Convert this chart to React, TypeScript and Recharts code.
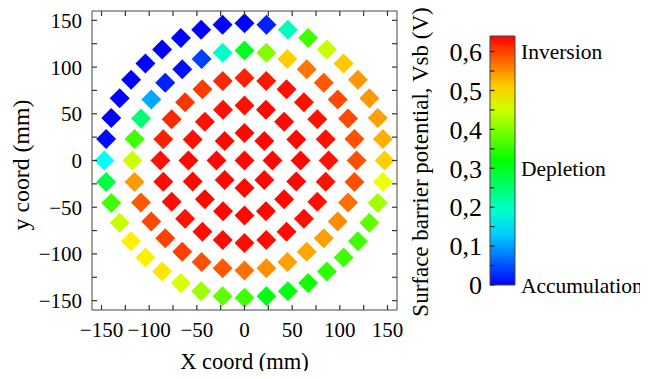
import React from 'react';
import { ScatterChart, Scatter, XAxis, YAxis, ComposedChart, ReferenceArea } from 'recharts';

// ---- data ----
const VMAX = 0.64;
const RING_RADII = [0, 29.4, 58.8, 88.2, 117.6, 147]; // mm, sites equally spaced on each ring starting at +x, counter-clockwise
const RING0 = [0.635];
const RING1 = [0.635, 0.635, 0.635, 0.635, 0.635, 0.635, 0.635, 0.635];
const RING2 = [0.635, 0.635, 0.635, 0.635, 0.63, 0.63, 0.63, 0.63, 0.635, 0.635, 0.635, 0.635, 0.635, 0.635, 0.635, 0.635];
const RING3 = [0.63, 0.63, 0.63, 0.63, 0.63, 0.625, 0.62, 0.615, 0.603, 0.607, 0.615, 0.62, 0.63, 0.632, 0.632, 0.628, 0.632, 0.632, 0.632, 0.632, 0.632, 0.632, 0.63, 0.63];
const RING4 = [0.59, 0.59, 0.595, 0.595, 0.585, 0.565, 0.51, 0.4, 0.3, 0.19, 0.04, 0.01, 0.02, 0.107, 0.25, 0.36, 0.448, 0.544, 0.585, 0.595, 0.6, 0.6, 0.59, 0.585, 0.57, 0.55, 0.54, 0.536, 0.54, 0.552, 0.57, 0.59];
const RING5 = [0.51, 0.53, 0.54, 0.545, 0.545, 0.515, 0.445, 0.36, 0.2, 0.02, 0, 0, 0, 0, 0, 0, 0, 0, 0, 0.005, 0.16, 0.28, 0.36, 0.445, 0.49, 0.49, 0.495, 0.456, 0.42, 0.38, 0.36, 0.31, 0.31, 0.33, 0.35, 0.36, 0.36, 0.38, 0.42, 0.47];
const RING_VALUES = [RING0, RING1, RING2, RING3, RING4, RING5];

const AXIS_MIN = -160;
const AXIS_MAX = 160;
const AXIS_TICKS = [-150, -125, -100, -75, -50, -25, 0, 25, 50, 75, 100, 125, 150];
const CB_TICKS = [0, 0.05, 0.1, 0.15, 0.2, 0.25, 0.3, 0.35, 0.4, 0.45, 0.5, 0.55, 0.6];
const CB_LABEL_TICKS = [0, 0.3, 0.6];
const CB_LABELS = ['Accumulation', 'Depletion', 'Inversion'];

const X_TITLE = 'X coord (mm)';
const Y_TITLE = 'y coord (mm)';
const CB_TITLE = 'Surface barrier potential, Vsb (V)';

// ---- helpers / styles ----
const FONT = '"Liberation Serif", "Times New Roman", serif';
const FRAME = '#444';
const TICK_STROKE = '#333';

function colorFor(v: number): string {
  const t = Math.max(0, Math.min(1, v / VMAX));
  const hue = 240 * (1 - t);
  return `hsl(${hue.toFixed(1)}, 100%, 50%)`;
}

const points = RING_VALUES.flatMap((vals, i) =>
  vals.map((v, k) => {
    const a = (k / vals.length) * 2 * Math.PI;
    return { x: RING_RADII[i] * Math.cos(a), y: RING_RADII[i] * Math.sin(a), v };
  })
);

// tick anchor points on the four sides of the frame
const frameTickPts = AXIS_TICKS.flatMap((t) => [
  { x: t, y: AXIS_MIN, side: 'b' },
  { x: t, y: AXIS_MAX, side: 't' },
  { x: AXIS_MIN, y: t, side: 'l' },
  { x: AXIS_MAX, y: t, side: 'r' },
]);

const cbExtent = [
  { x: 0, y: 0 },
  { x: 1, y: VMAX },
];
const cbTickPts = CB_TICKS.map((t) => ({ x: 0, y: t }));

const fmtAxis = (v: number) => (v % 50 === 0 ? (v < 0 ? '\u2212' + Math.abs(v) : String(v)) : '');
const fmtCb = (v: number) => {
  const r = Math.round(v * 100);
  if (r % 10 !== 0) return '';
  return r === 0 ? '0' : (r / 100).toFixed(1).replace('.', ',');
};
const fmtCbLabel = (v: number) => {
  const idx = CB_LABEL_TICKS.findIndex((t) => Math.abs(t - v) < 1e-6);
  return idx >= 0 ? CB_LABELS[idx] : '';
};

const Diamond = (props: any) => {
  const { cx, cy, payload } = props;
  if (cx == null || cy == null) return <g />;
  const h = 10;
  return (
    <polygon
      points={`${cx},${cy - h} ${cx + h},${cy} ${cx},${cy + h} ${cx - h},${cy}`}
      fill={colorFor(payload.v)}
    />
  );
};

const FrameTick = (props: any) => {
  const { cx, cy, payload } = props;
  if (cx == null || cy == null) return <g />;
  const L = 5;
  const d: Record<string, [number, number]> = { b: [0, -L], t: [0, L], l: [L, 0], r: [-L, 0] };
  const [dx, dy] = d[payload.side];
  return <line x1={cx} y1={cy} x2={cx + dx} y2={cy + dy} stroke={TICK_STROKE} strokeWidth={1.2} />;
};

const CbTick = (props: any) => {
  const { cx, cy } = props;
  if (cx == null || cy == null) return <g />;
  return <line x1={cx} y1={cy} x2={cx + 4.5} y2={cy} stroke="#222" strokeWidth={1.2} />;
};

const Nothing = () => <g />;

const tickStyle = { fontSize: 21, fill: '#000', fontFamily: FONT };
const CB_MARGIN = { top: 28, right: 0, bottom: 94, left: 42 };

export default function App() {
  return (
    <div style={{ position: 'relative', width: 640, height: 371, marginBottom: -8, fontFamily: FONT }}>
      <div style={{ position: 'absolute', left: 0, top: 0 }}>
        <ScatterChart width={640} height={371} margin={{ top: 0, right: 0, bottom: 0, left: 0 }}>
          <XAxis
            xAxisId="b"
            type="number"
            dataKey="x"
            domain={[AXIS_MIN, AXIS_MAX]}
            ticks={AXIS_TICKS}
            interval={0}
            tickFormatter={fmtAxis}
            height={69}
            tickSize={5}
            tickMargin={7}
            allowDataOverflow
            axisLine={{ stroke: FRAME }}
            tickLine={false}
            tick={tickStyle}
            label={{
              content: (p: any) => {
                const vb = p.viewBox;
                return (
                  <text x={vb.x + vb.width / 2} y={vb.y + 59} textAnchor="middle" fontSize={22.5} fontFamily={FONT} fill="#000">
                    {X_TITLE}
                  </text>
                );
              },
            }}
          />
          <XAxis
            xAxisId="t"
            orientation="top"
            type="number"
            dataKey="x"
            domain={[AXIS_MIN, AXIS_MAX]}
            height={3}
            tick={false}
            tickLine={false}
            allowDataOverflow
            axisLine={{ stroke: FRAME }}
          />
          <YAxis
            yAxisId="l"
            type="number"
            dataKey="y"
            domain={[AXIS_MIN, AXIS_MAX]}
            ticks={AXIS_TICKS}
            interval={0}
            tickFormatter={fmtAxis}
            width={84}
            tickSize={5}
            tickMargin={5}
            allowDataOverflow
            axisLine={{ stroke: FRAME }}
            tickLine={false}
            tick={tickStyle}
            label={{
              content: (p: any) => {
                const vb = p.viewBox;
                const x = vb.x + 12.5;
                const y = vb.y + vb.height / 2 + 4.5;
                return (
                  <text x={x} y={y} transform={`rotate(-90, ${x}, ${y})`} textAnchor="middle" dominantBaseline="central" fontSize={23.8} fontFamily={FONT} fill="#000">
                    {Y_TITLE}
                  </text>
                );
              },
            }}
          />
          <YAxis
            yAxisId="r"
            orientation="right"
            type="number"
            dataKey="y"
            domain={[AXIS_MIN, AXIS_MAX]}
            width={251}
            tick={false}
            tickLine={false}
            allowDataOverflow
            axisLine={{ stroke: FRAME }}
          />
          <Scatter data={points} xAxisId="t" yAxisId="r" shape={Nothing} isAnimationActive={false} />
          <Scatter data={points} xAxisId="b" yAxisId="l" shape={Diamond} isAnimationActive={false} />
          <Scatter data={frameTickPts} xAxisId="b" yAxisId="l" shape={FrameTick} isAnimationActive={false} />
        </ScatterChart>
      </div>
      {/* colour bar with its labels */}
      <div style={{ position: 'absolute', left: 380, top: 0 }}>
        <ComposedChart width={260} height={371} margin={CB_MARGIN}>
          <defs>
            <linearGradient id="cbGrad" x1="0" y1="1" x2="0" y2="0">
              {[0, 0.1, 0.2, 0.3, 0.4, 0.5, 0.6, 0.7, 0.8, 0.9, 1].map((f) => (
                <stop key={f} offset={f} stopColor={colorFor(f * VMAX)} />
              ))}
            </linearGradient>
          </defs>
          <XAxis xAxisId="c" type="number" dataKey="x" domain={[0, 1]} hide />
          <YAxis
            yAxisId="l"
            type="number"
            dataKey="y"
            domain={[0, VMAX]}
            ticks={CB_TICKS}
            interval={0}
            tickFormatter={fmtCb}
            width={60}
            tickSize={0}
            tickMargin={8}
            axisLine={false}
            tickLine={false}
            tick={{ fontSize: 26, fill: '#000', fontFamily: FONT }}
            label={{
              content: (p: any) => {
                const vb = p.viewBox;
                const x = vb.x - 9.5;
                const y = 154;
                return (
                  <text x={x} y={y} transform={`rotate(-90, ${x}, ${y})`} textAnchor="middle" dominantBaseline="central" fontSize={23} fontFamily={FONT} fill="#000">
                    {CB_TITLE}
                  </text>
                );
              },
            }}
          />
          <YAxis
            yAxisId="r"
            orientation="right"
            type="number"
            dataKey="y"
            domain={[0, VMAX]}
            ticks={CB_LABEL_TICKS}
            interval={0}
            tickFormatter={fmtCbLabel}
            width={133}
            tickSize={0}
            tickMargin={6}
            axisLine={false}
            tickLine={false}
            tick={{ fontSize: 21.5, fill: '#000', fontFamily: FONT, textAnchor: 'start' }}
          />
          <Scatter data={cbExtent} xAxisId="c" yAxisId="r" shape={Nothing} isAnimationActive={false} />
          <ReferenceArea xAxisId="c" yAxisId="l" x1={0} x2={1} y1={0} y2={VMAX} fill="url(#cbGrad)" fillOpacity={1} stroke="#444" strokeWidth={1} ifOverflow="visible" />
          <Scatter data={cbTickPts} xAxisId="c" yAxisId="l" shape={CbTick} isAnimationActive={false} />
        </ComposedChart>
      </div>
    </div>
  );
}
